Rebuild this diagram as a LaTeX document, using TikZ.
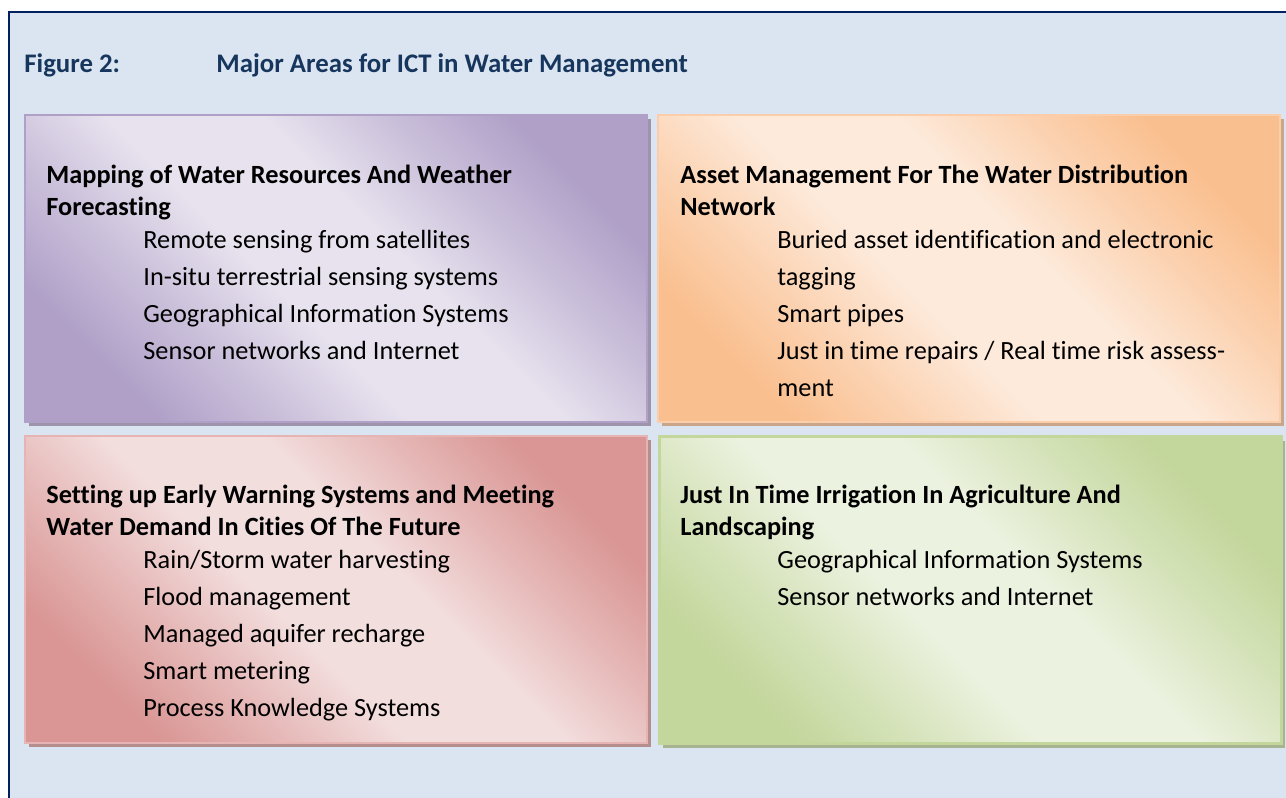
\documentclass[tikz,border=0pt]{standalone}
\usepackage{fontspec}
\setmainfont{Carlito}[Ligatures=NoCommon]
\usetikzlibrary{shadows}

\definecolor{framenavy}{RGB}{0,32,96}
\definecolor{panebg}{RGB}{219,229,241}
\definecolor{titlenavy}{RGB}{23,54,93}
\definecolor{lilaclight}{RGB}{231,226,238}
\definecolor{lilacdark}{RGB}{176,160,200}
\definecolor{peachlight}{RGB}{253,234,219}
\definecolor{peachdark}{RGB}{250,191,143}
\definecolor{peachline}{RGB}{251,205,170}
\definecolor{roselight}{RGB}{243,222,222}
\definecolor{rosedark}{RGB}{217,150,148}
\definecolor{roseline}{RGB}{230,180,178}
\definecolor{sagelight}{RGB}{236,242,224}
\definecolor{sagedark}{RGB}{195,214,155}
\colorlet{tintdark}{lilacdark}
\colorlet{tintlight}{lilaclight}

% dark corners, soft light band along the other diagonal
\pgfdeclareverticalshading[tintdark,tintlight]{panelshade}{100bp}{%
  color(0bp)=(tintdark); color(25bp)=(tintdark); color(34bp)=(tintdark!55!tintlight);
  color(44bp)=(tintlight); color(56bp)=(tintlight); color(66bp)=(tintdark!55!tintlight);
  color(75bp)=(tintdark); color(100bp)=(tintdark)}

\newcommand{\subline}[1]{\\[2.5pt]\hspace*{48.5pt}#1}
\newcommand{\firstline}{\rule{0pt}{10pt}}

\begin{document}
\begin{tikzpicture}[x=0.5pt, y=-0.5pt,
  panel/.style = {draw, line width=0.75pt, anchor=north west, inner sep=0pt,
    minimum width=311pt, minimum height=153.5pt},
  tint/.style n args = {3}{/utils/exec={\colorlet{tintdark}{#1}\colorlet{tintlight}{#2}},
    shading=panelshade, shading angle=-45, draw=#3,
    drop shadow={shadow xshift=2pt, shadow yshift=-2.2pt, opacity=1, fill=#1!60!gray}},
  paneltext/.style = {anchor=north west, inner sep=0pt, align=left,
    font=\fontsize{13.15pt}{16pt}\selectfont},
  heading/.style = {anchor=base west, inner sep=0pt, text=titlenavy,
    font=\fontsize{13.4pt}{16pt}\selectfont\bfseries}]
  \useasboundingbox (0,0) rectangle (1286,798);
  \draw[framenavy, fill=panebg, line width=1pt] (9,12) rectangle (1300,812);

  \node[heading] (figlabel) at (24,72) {Figure 2:};
  \node[heading] (figtitle) at (216,72) {Major Areas for ICT in Water Management};

  % the four areas
  \node[panel, tint={lilacdark}{lilaclight}{lilacdark}] (mapping) at (24,114) {};
  \node[panel, tint={peachdark}{peachlight}{peachline}] (assets) at (657,114) {};
  \node[panel, tint={rosedark}{roselight}{roseline}] (warning) at (24,435) {};
  \node[panel, tint={sagedark}{sagelight}{sagedark}, line width=1.25pt] (irrigation) at (658,435) {};

  \node[paneltext] (mappingtext) at ([shift={(22,49)}]mapping.north west)
    {\firstline\textbf{Mapping of Water Resources And Weather}\\
     \textbf{Forecasting}\\[0.5pt]\hspace*{48.5pt}Remote sensing from satellites
     \subline{In-situ terrestrial sensing systems}
     \subline{Geographical Information Systems}
     \subline{Sensor networks and Internet}};
  \node[paneltext] (assetstext) at ([shift={(23,49)}]assets.north west)
    {\firstline\textbf{Asset Management For The Water Distribution}\\
     \textbf{Network}\\[0.5pt]\hspace*{48.5pt}Buried asset identification and electronic
     \subline{tagging}
     \subline{Smart pipes}
     \subline{Just in time repairs / Real time risk assess-}
     \subline{ment}};
  \node[paneltext] (warningtext) at ([shift={(22,48)}]warning.north west)
    {\firstline\textbf{Setting up Early Warning Systems and Meeting}\\
     \textbf{Water Demand In Cities Of The Future}\\[0.5pt]\hspace*{48.5pt}Rain/Storm water harvesting
     \subline{Flood management}
     \subline{Managed aquifer recharge}
     \subline{Smart metering}
     \subline{Process Knowledge Systems}};
  \node[paneltext] (irrigationtext) at ([shift={(22,48)}]irrigation.north west)
    {\firstline\textbf{Just In Time Irrigation In Agriculture And}\\
     \textbf{Landscaping}\\[0.5pt]\hspace*{48.5pt}Geographical Information Systems
     \subline{Sensor networks and Internet}};
\end{tikzpicture}
\end{document}
